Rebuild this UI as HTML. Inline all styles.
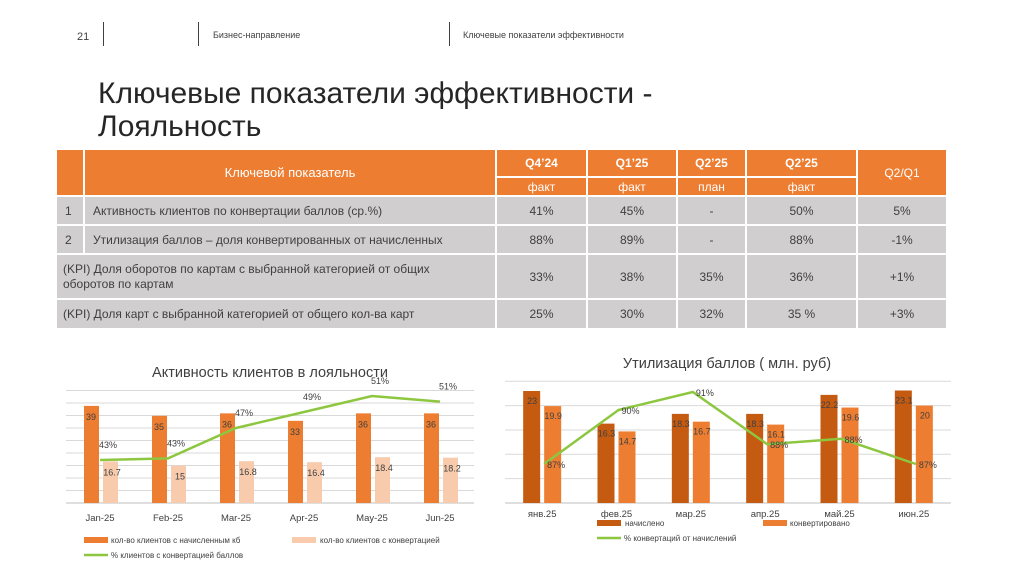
<!DOCTYPE html>
<html><head><meta charset="utf-8">
<style>
*{margin:0;padding:0;box-sizing:border-box}
body{width:1024px;height:576px;background:#fff;position:relative;overflow:hidden;font-family:"Liberation Sans","DejaVu Sans",sans-serif;color:#404040}
.abs{position:absolute}
.c{position:absolute;display:flex;align-items:center;justify-content:center;font-size:12px;color:#404040;background:#D0CECE}
.h{background:#ED7D31;color:#fff}
.l{justify-content:flex-start;padding-left:8px}
</style></head><body>
<div class="abs" style="left:77px;top:31px;font-size:11px">21</div>
<div class="abs" style="left:103px;top:22px;width:1px;height:24px;background:#404040"></div>
<div class="abs" style="left:198px;top:22px;width:1px;height:24px;background:#404040"></div>
<div class="abs" style="left:213px;top:30px;font-size:9px">Бизнес-направление</div>
<div class="abs" style="left:449px;top:22px;width:1px;height:24px;background:#404040"></div>
<div class="abs" style="left:463px;top:30px;font-size:9px">Ключевые показатели эффективности</div>
<div class="abs" style="left:98px;top:77px;font-size:30px;line-height:33px;color:#262626">Ключевые показатели эффективности -<br>Лояльность</div>

<div>
<div class="c h" style="left:57px;top:150px;width:26px;height:45px"></div>
<div class="c h" style="left:85px;top:150px;width:410px;height:45px;font-size:13px">Ключевой показатель</div>
<div class="c h" style="left:497px;top:150px;width:89px;height:26px;font-weight:bold">Q4’24</div>
<div class="c h" style="left:588px;top:150px;width:88px;height:26px;font-weight:bold">Q1’25</div>
<div class="c h" style="left:678px;top:150px;width:67px;height:26px;font-weight:bold">Q2’25</div>
<div class="c h" style="left:747px;top:150px;width:109px;height:26px;font-weight:bold">Q2’25</div>
<div class="c h" style="left:858px;top:150px;width:88px;height:45px">Q2/Q1</div>
<div class="c h" style="left:497px;top:178px;width:89px;height:17px">факт</div>
<div class="c h" style="left:588px;top:178px;width:88px;height:17px">факт</div>
<div class="c h" style="left:678px;top:178px;width:67px;height:17px">план</div>
<div class="c h" style="left:747px;top:178px;width:109px;height:17px">факт</div>

<div class="c l" style="left:57px;top:197px;width:26px;height:27px">1</div>
<div class="c l" style="left:85px;top:197px;width:410px;height:27px">Активность клиентов по конвертации баллов (ср.%)</div>
<div class="c" style="left:497px;top:197px;width:89px;height:27px">41%</div>
<div class="c" style="left:588px;top:197px;width:88px;height:27px">45%</div>
<div class="c" style="left:678px;top:197px;width:67px;height:27px">-</div>
<div class="c" style="left:747px;top:197px;width:109px;height:27px">50%</div>
<div class="c" style="left:858px;top:197px;width:88px;height:27px">5%</div>

<div class="c l" style="left:57px;top:226px;width:26px;height:27px">2</div>
<div class="c l" style="left:85px;top:226px;width:410px;height:27px">Утилизация баллов – доля конвертированных от начисленных</div>
<div class="c" style="left:497px;top:226px;width:89px;height:27px">88%</div>
<div class="c" style="left:588px;top:226px;width:88px;height:27px">89%</div>
<div class="c" style="left:678px;top:226px;width:67px;height:27px">-</div>
<div class="c" style="left:747px;top:226px;width:109px;height:27px">88%</div>
<div class="c" style="left:858px;top:226px;width:88px;height:27px">-1%</div>

<div class="c l" style="left:57px;top:255px;width:438px;height:43px;line-height:15px;padding-left:6px">(KPI) Доля оборотов по картам с выбранной категорией от общих<br>оборотов по картам</div>
<div class="c" style="left:497px;top:255px;width:89px;height:43px">33%</div>
<div class="c" style="left:588px;top:255px;width:88px;height:43px">38%</div>
<div class="c" style="left:678px;top:255px;width:67px;height:43px">35%</div>
<div class="c" style="left:747px;top:255px;width:109px;height:43px">36%</div>
<div class="c" style="left:858px;top:255px;width:88px;height:43px">+1%</div>

<div class="c l" style="left:57px;top:300px;width:438px;height:28px;padding-left:6px">(KPI) Доля карт с выбранной категорией от общего кол-ва карт</div>
<div class="c" style="left:497px;top:300px;width:89px;height:28px">25%</div>
<div class="c" style="left:588px;top:300px;width:88px;height:28px">30%</div>
<div class="c" style="left:678px;top:300px;width:67px;height:28px">32%</div>
<div class="c" style="left:747px;top:300px;width:109px;height:28px">35 %</div>
<div class="c" style="left:858px;top:300px;width:88px;height:28px">+3%</div>
</div>

<svg id="charts" class="abs" style="left:0;top:0" width="1024" height="576"></svg>

<script>
// Left chart data
const leftCats = ["Jan-25","Feb-25","Mar-25","Apr-25","May-25","Jun-25"];
const leftAccrued = [39,35,36,33,36,36];
const leftConverted = [16.7,15,16.8,16.4,18.4,18.2];
const leftPct = [43,43.2,47,49,51,50.3];
const leftPctLabels = ["43%","43%","47%","49%","51%","51%"];
// Right chart data
const rightCats = ["янв.25","фев.25","мар.25","апр.25","май.25","июн.25"];
const rightAccrued = [23,16.3,18.3,18.3,22.2,23.1];
const rightConverted = [19.9,14.7,16.7,16.1,19.6,20];
const rightPct = [87,90,91,88.1,88.4,87];
const rightPctLabels = ["87%","90%","91%","88%","88%","87%"];

const svg = document.getElementById('charts');
const NS = "http://www.w3.org/2000/svg";
function mk(tag, attrs, name, text){
  const e = document.createElementNS(NS, tag);
  for (const k in attrs) e.setAttribute(k, attrs[k]);
  
  
  if (text !== undefined) e.textContent = text;
  svg.appendChild(e);
  return e;
}
const F = '"Liberation Sans","DejaVu Sans",sans-serif';

// ---- Left chart ----
(function(){
  const x0 = 66, x1 = 474, base = 503, step = (x1 - x0) / leftCats.length;
  const yB = v => base - v * 2.49;
  const yL = v => 460 - (v - 43) * 8;
  const cx = i => x0 + step * (i + 0.5);
  mk('text',{x:270,y:377,'font-size':14.5,'text-anchor':'middle','font-family':F,fill:'#404040'},'left-chart-title','Активность клиентов в лояльности');
  for (let g = 0; g < 10; g++) mk('line',{x1:x0,x2:x1,y1:base-g*12.5,y2:base-g*12.5,stroke:'#D9D9D9','stroke-width':1},'gridline');
  mk('line',{x1:x0,x2:x1,y1:base,y2:base,stroke:'#BFBFBF','stroke-width':1},'x-axis');
  leftCats.forEach((c,i)=>{
    const a = leftAccrued[i], b = leftConverted[i];
    mk('rect',{x:cx(i)-16,y:yB(a),width:15,height:base-yB(a),fill:'#ED7D31'},'bar-accrued');
    mk('rect',{x:cx(i)+3,y:yB(b),width:15,height:base-yB(b),fill:'#F8CBAD'},'bar-converted');
    mk('text',{x:cx(i)-9,y:yB(a)+14,'font-size':9,'text-anchor':'middle','font-family':F,fill:'#404040'},'bar-label',a);
    mk('text',{x:cx(i)+12,y:yB(b)+14,'font-size':9,'text-anchor':'middle','font-family':F,fill:'#404040'},'bar-label',b);
    mk('text',{x:cx(i),y:521,'font-size':9.5,'text-anchor':'middle','font-family':F,fill:'#404040'},'x-tick-label',c);
  });
  mk('polyline',{points:leftPct.map((v,i)=>cx(i)+','+yL(v)).join(' '),fill:'none',stroke:'#8DC63F','stroke-width':2.5},'line-pct');
  leftPct.forEach((v,i)=>mk('text',{x:cx(i)+8,y:yL(v)-12,'font-size':9,'text-anchor':'middle','font-family':F,fill:'#404040'},'line-label',leftPctLabels[i]));
  mk('rect',{x:84,y:537,width:24,height:6,fill:'#ED7D31'},'legend-accrued-swatch');
  mk('text',{x:111,y:543,'font-size':8,'font-family':F,fill:'#404040'},'legend-accrued','кол-во клиентов с начисленным  кб');
  mk('rect',{x:292,y:537,width:24,height:6,fill:'#F8CBAD'},'legend-converted-swatch');
  mk('text',{x:320,y:543,'font-size':8,'font-family':F,fill:'#404040'},'legend-converted','кол-во клиентов с конвертацией');
  mk('line',{x1:84,x2:108,y1:555,y2:555,stroke:'#8DC63F','stroke-width':2.5},'legend-pct-swatch');
  mk('text',{x:111,y:558,'font-size':8,'font-family':F,fill:'#404040'},'legend-pct','% клиентов с конвертацией баллов');
})();

// ---- Right chart ----
(function(){
  const x0 = 505, x1 = 951, base = 503, step = (x1 - x0) / rightCats.length;
  const yB = v => base - v * 4.87;
  const yL = v => 464 - (v - 87) * 18;
  const cx = i => x0 + step * (i + 0.5);
  mk('text',{x:727,y:368,'font-size':14.5,'text-anchor':'middle','font-family':F,fill:'#404040'},'right-chart-title','Утилизация баллов ( млн. руб)');
  for (let g = 0; g < 6; g++) mk('line',{x1:x0,x2:x1,y1:base-g*24.35,y2:base-g*24.35,stroke:'#D9D9D9','stroke-width':1},'gridline');
  mk('line',{x1:x0,x2:x1,y1:base,y2:base,stroke:'#BFBFBF','stroke-width':1},'x-axis');
  rightCats.forEach((c,i)=>{
    const a = rightAccrued[i], b = rightConverted[i];
    mk('rect',{x:cx(i)-19,y:yB(a),width:17,height:base-yB(a),fill:'#C55A11'},'bar-accrued');
    mk('rect',{x:cx(i)+2,y:yB(b),width:17,height:base-yB(b),fill:'#ED7D31'},'bar-converted');
    mk('text',{x:cx(i)-10,y:yB(a)+13,'font-size':9,'text-anchor':'middle','font-family':F,fill:'#404040'},'bar-label',a);
    mk('text',{x:cx(i)+11,y:yB(b)+13,'font-size':9,'text-anchor':'middle','font-family':F,fill:'#404040'},'bar-label',b);
    mk('text',{x:cx(i),y:517,'font-size':9.5,'text-anchor':'middle','font-family':F,fill:'#404040'},'x-tick-label',c);
  });
  mk('polyline',{points:rightPct.map((v,i)=>(cx(i)+2)+','+yL(v)).join(' '),fill:'none',stroke:'#8DC63F','stroke-width':2.5},'line-pct');
  rightPct.forEach((v,i)=>mk('text',{x:cx(i)+14,y:yL(v)+4,'font-size':9,'text-anchor':'middle','font-family':F,fill:'#404040'},'line-label',rightPctLabels[i]));
  mk('rect',{x:597,y:520,width:24,height:6,fill:'#C55A11'},'legend-accrued-swatch');
  mk('text',{x:625,y:526,'font-size':8,'font-family':F,fill:'#404040'},'legend-accrued','начислено');
  mk('rect',{x:763,y:520,width:24,height:6,fill:'#ED7D31'},'legend-converted-swatch');
  mk('text',{x:790,y:526,'font-size':8,'font-family':F,fill:'#404040'},'legend-converted','конвертировано');
  mk('line',{x1:597,x2:621,y1:538,y2:538,stroke:'#8DC63F','stroke-width':2.5},'legend-pct-swatch');
  mk('text',{x:624,y:541,'font-size':8,'font-family':F,fill:'#404040'},'legend-pct','% конвертаций от начислений');
})();
</script>
</body></html>
